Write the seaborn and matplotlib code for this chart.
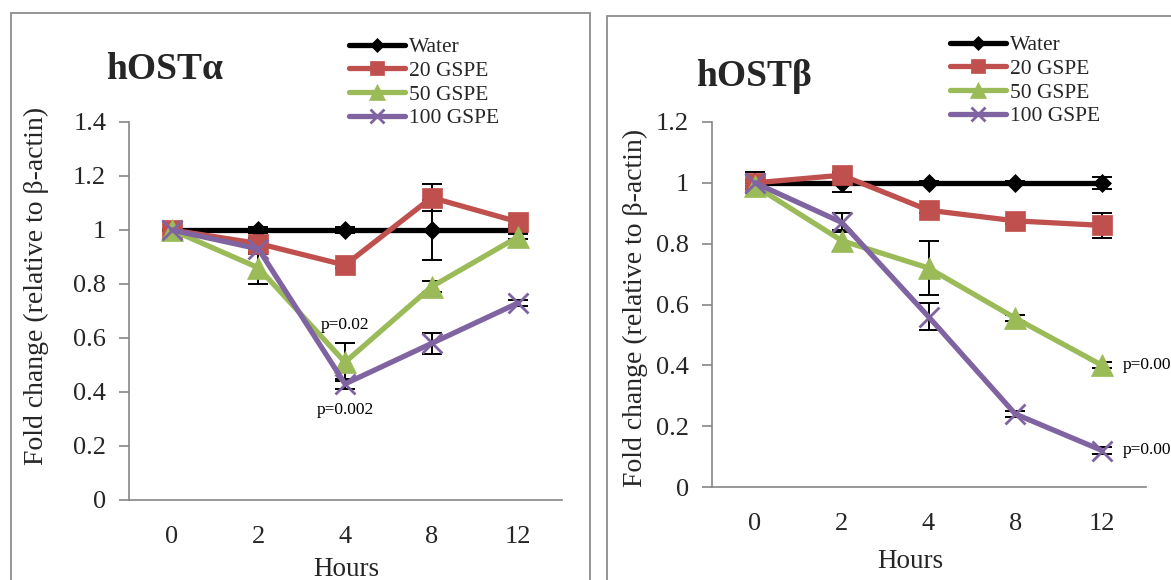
import numpy as np
import pandas as pd
import matplotlib
matplotlib.use("Agg")
import matplotlib.pyplot as plt
from matplotlib.patches import Rectangle
import seaborn as sns

sns.set_theme(style="white")
plt.rcParams["font.family"] = ["Liberation Serif", "DejaVu Serif"]

# ---------------- data ----------------
hours = ["0", "2", "4", "8", "12"]
series_names = ["Water", "20 GSPE", "50 GSPE", "100 GSPE"]

alpha_water = [1.0, 1.0, 1.0, 1.0, 1.0]
alpha_20 = [1.0, 0.95, 0.87, 1.12, 1.03]
alpha_50 = [1.0, 0.86, 0.51, 0.79, 0.975]
alpha_100 = [1.0, 0.93, 0.43, 0.58, 0.73]
alpha_water_err = [0.005, 0.01, 0.01, 0.11, 0.01]
alpha_20_err = [0.005, 0.02, 0.01, 0.05, 0.01]
alpha_50_err = [0.005, 0.06, 0.07, 0.02, 0.01]
alpha_100_err = [0.005, 0.02, 0.02, 0.04, 0.01]

beta_water = [1.0, 1.0, 1.0, 1.0, 1.0]
beta_20 = [1.0, 1.025, 0.91, 0.875, 0.86]
beta_50 = [0.99, 0.81, 0.72, 0.555, 0.40]
beta_100 = [1.0, 0.87, 0.56, 0.24, 0.12]
beta_water_err = [0.035, 0.03, 0.005, 0.005, 0.02]
beta_20_err = [0.01, 0.01, 0.01, 0.01, 0.04]
beta_50_err = [0.01, 0.035, 0.09, 0.01, 0.01]
beta_100_err = [0.01, 0.03, 0.045, 0.01, 0.01]

alpha_annotations = [("p=0.02", 2, 0.648), ("p=0.002", 2, 0.333)]
beta_annotations = [("p=0.00", 4.24, 0.40), ("p=0.00", 4.24, 0.12)]

colors = ["#000000", "#C0504D", "#9BBB59", "#8064A2"]
markers = ["D", "s", "^", "x"]
msizes = [9.5, 14.5, 15.5, 14.5]
AXIS_GRAY = "#868686"

W, H = 1171, 580
fig = plt.figure(figsize=(W / 100, H / 100), dpi=100)


def px_rect(l, t, r, b):
    return [l / W, 1 - b / H, (r - l) / W, (b - t) / H]


def panel(ax, vals, errs, ymax, ystep, title, title_xy, leg_xy, ylab_xy, xlab_xy, notes, ann_ha):
    x = np.arange(len(hours))
    for i, name in enumerate(series_names):
        df = pd.DataFrame({"pos": x, "val": vals[i]})
        ax.errorbar(x, vals[i], yerr=errs[i], fmt="none", ecolor="black",
                    elinewidth=1.4, capsize=7, capthick=1.4, zorder=1.9 + i * 0.01)
        sns.lineplot(data=df, x="pos", y="val", ax=ax, color=colors[i], lw=3.8,
                     marker=markers[i], markersize=msizes[i],
                     markeredgecolor=colors[i],
                     markeredgewidth=2.0 if markers[i] == "x" else 0.5,
                     label=name, zorder=2 + i * 0.1)
    ticks = np.round(np.arange(0, ymax + 1e-9, ystep), 2)
    ax.set_xlim(-0.5, len(hours) - 0.5)
    ax.set_ylim(0, ymax)
    ax.set_yticks(ticks)
    ax.set_yticklabels([f"{v:g}" for v in ticks])
    ax.set_xticks(x)
    ax.set_xticklabels(hours)
    ax.set_xticks(np.arange(-0.5, len(hours), 1.0), minor=True)
    ax.tick_params(axis="x", which="major", length=0, pad=19, labelsize=19)
    ax.tick_params(axis="x", which="minor", length=7, width=1.2, color=AXIS_GRAY, direction="out")
    ax.tick_params(axis="y", which="major", length=7, width=1.2, color=AXIS_GRAY,
                   direction="out", pad=9, labelsize=19)
    ax.tick_params(bottom=True, left=True)
    for s in ["top", "right"]:
        ax.spines[s].set_visible(False)
    for s in ["left", "bottom"]:
        ax.spines[s].set_color(AXIS_GRAY)
        ax.spines[s].set_linewidth(1.2)
    ax.set_ylabel("Fold change (relative to β-actin)", fontsize=20)
    ax.yaxis.label.set_va("center")
    ax.yaxis.set_label_coords(*ylab_xy)
    ax.set_xlabel("Hours", fontsize=19.5)
    ax.xaxis.set_label_coords(*xlab_xy)
    for txt, xx, yy in notes:
        ax.text(xx, yy, txt, fontsize=12.5, ha=ann_ha, va="center", color="black", zorder=5)
    fig.text(title_xy[0] / W, 1 - title_xy[1] / H, title, fontsize=27,
             fontweight="bold", ha="center", va="baseline")
    leg = ax.legend(loc="upper left", bbox_to_anchor=(leg_xy[0] / W, 1 - leg_xy[1] / H),
                    bbox_transform=fig.transFigure, frameon=False, fontsize=15.5,
                    borderpad=0, labelspacing=0.17, handlelength=2.6,
                    handletextpad=0.2, markerscale=0.7, borderaxespad=0)
    return leg


ax1 = fig.add_axes(px_rect(128.5, 122, 561.5, 500))
ax2 = fig.add_axes(px_rect(711.5, 122, 1145.5, 487))

panel(ax1, [alpha_water, alpha_20, alpha_50, alpha_100],
      [alpha_water_err, alpha_20_err, alpha_50_err, alpha_100_err],
      1.4, 0.2, "hOSTα", (165, 79), (349, 37),
      (-0.212, 0.566), (0.502, -0.150), alpha_annotations, "center")
panel(ax2, [beta_water, beta_20, beta_50, beta_100],
      [beta_water_err, beta_20_err, beta_50_err, beta_100_err],
      1.2, 0.2, "hOSTβ", (754, 86), (950, 35),
      (-0.175, 0.49), (0.459, -0.170), beta_annotations, "left")

# panel frames
fig.add_artist(Rectangle((11 / W, -0.05), (590 - 11) / W, 1.05 - 13 / H,
                         transform=fig.transFigure, fill=False, ec="#8c8c8c", lw=1.3))
fig.add_artist(Rectangle((607 / W, -0.05), 0.6, 1.05 - 16 / H,
                         transform=fig.transFigure, fill=False, ec="#8c8c8c", lw=1.3))

fig.savefig("out.png", dpi=100)
